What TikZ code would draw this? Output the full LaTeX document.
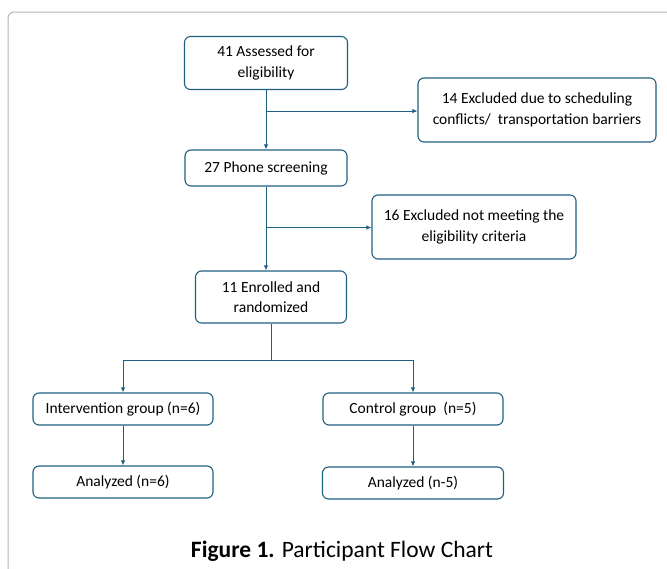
\documentclass[tikz,border=0pt]{standalone}
\usepackage{fontspec}
\setmainfont{Carlito}
\usetikzlibrary{arrows.meta,calc}
\definecolor{boxblue}{HTML}{1F5F80}
\definecolor{framegray}{HTML}{B4B4B4}

\begin{document}
\begin{tikzpicture}[x=1pt, y=1pt, node distance = 100pt,
  box/.style = {rectangle, rounded corners=6pt, draw=boxblue, line width=1.1pt,
                align=center, font=\fontsize{15.5}{20.5}\selectfont, inner sep=2pt},
  link/.style = {draw=boxblue, line width=1pt, -{Latex[length=5pt,width=4.5pt]}}]
  \useasboundingbox (0,0) rectangle (667,-568);
  \draw[framegray, line width=1pt, rounded corners=6pt] (8,-600) -- (8,-12) -- (700,-12);

  \node[box, minimum width=163pt, minimum height=53pt] at (266,-63) (assess)
  {41 Assessed for\\eligibility};
  \node[box, right of = assess, node distance = 271pt, yshift = -47pt,
        minimum width=238pt, minimum height=64pt] (excla)
  {14 Excluded due to scheduling\\conflicts/\ \ transportation barriers};

  \node[box, below of = assess, node distance = 105pt,
        minimum width=162pt, minimum height=36pt] (phone) {27 Phone screening};
  \node[box, right of = phone, node distance = 208pt, yshift = -59pt,
        minimum width=204pt, minimum height=64pt] (exclb)
  {16 Excluded not meeting the\\eligibility criteria};

  \node[box, below of = phone, node distance = 129pt, xshift = 5pt,
        minimum width=151pt, minimum height=52pt] (enrol)
  {11 Enrolled and\\randomized};

  \node[box, below of = enrol, node distance = 112pt, xshift = -148pt,
        minimum width=180pt, minimum height=32pt] (interv) {Intervention group (n=6)};
  \node[box, right of = interv, node distance = 290pt,
        minimum width=180pt, minimum height=32pt] (control) {Control group\ \ (n=5)};

  \node[box, below of = interv, node distance = 73pt,
        minimum width=180pt, minimum height=32pt] (anala) {Analyzed (n=6)};
  \node[box, below of = control, node distance = 74pt,
        minimum width=181pt, minimum height=32pt] (analb) {Analyzed (n-5)};

  \node[font=\fontsize{23.5}{28}\selectfont] at (342,-551) (caption)
  {\textbf{Figure 1.} Participant Flow Chart};

  \coordinate (forka) at ($(assess.south)+(0,-21)$);
  \coordinate (forkb) at ($(phone.south)+(0,-41)$);
  \coordinate (split) at ($(enrol.south)+(0,-37)$);

  \draw[link] (assess.south) -- (phone.north);
  \draw[link] (forka) -- (forka -| excla.west);
  \draw[link] (phone.south) -- (phone.south |- enrol.north);
  \draw[link] (forkb) -- (forkb -| exclb.west);
  \draw[link] (enrol.south) -- (split) -| (interv.north);
  \draw[link] (split) -| (control.north);
  \draw[link] (interv.south) -- (anala.north);
  \draw[link] (control.south) -- (analb.north);
\end{tikzpicture}
\end{document}
